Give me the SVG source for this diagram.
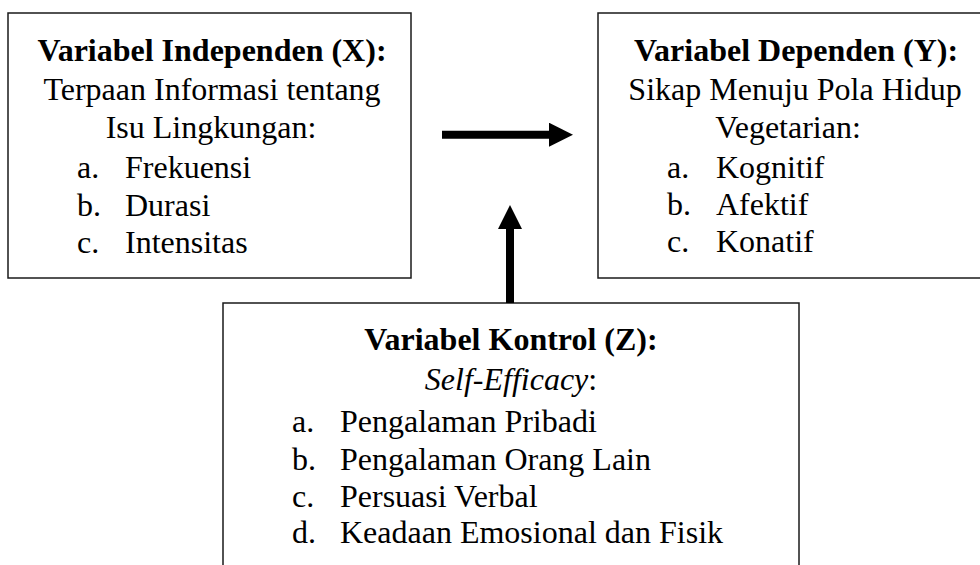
<svg xmlns="http://www.w3.org/2000/svg" width="980" height="565" viewBox="0 0 980 565">
  <style>
    .box { fill: #ffffff; stroke: #1a1a1a; stroke-width: 1.5; }
    .t { font-family: "Liberation Serif", "Times New Roman", serif; font-size: 32px; fill: #000; }
    .b { font-weight: bold; }
    .c { text-anchor: middle; }
    .i { font-style: italic; }
    .conn { stroke: #000; stroke-width: 8; fill: none; }
  </style>
  <defs>
    <marker id="ah" markerUnits="userSpaceOnUse" markerWidth="24" markerHeight="24" refX="0" refY="12" orient="auto">
      <path d="M0,0 L24,12 L0,24 z" fill="#000"/>
    </marker>
  </defs>
  <rect x="0" y="0" width="980" height="565" fill="#ffffff"/>

  <g id="node-independen">
    <rect class="box" x="8" y="13" width="403" height="265"/>
    <text class="t b c" x="212" y="61">Variabel Independen (X):</text>
    <text class="t c" x="212" y="100">Terpaan Informasi tentang</text>
    <text class="t c" x="211" y="138">Isu Lingkungan:</text>
    <text class="t" y="178"><tspan x="77">a.</tspan><tspan x="125">Frekuensi</tspan></text>
    <text class="t" y="216"><tspan x="77">b.</tspan><tspan x="125">Durasi</tspan></text>
    <text class="t" y="253"><tspan x="77">c.</tspan><tspan x="125">Intensitas</tspan></text>
  </g>

  <g id="node-dependen">
    <rect class="box" x="598" y="13" width="400" height="265"/>
    <text class="t b c" x="796" y="61">Variabel Dependen (Y):</text>
    <text class="t c" x="795" y="100">Sikap Menuju Pola Hidup</text>
    <text class="t c" x="788" y="138">Vegetarian:</text>
    <text class="t" y="178"><tspan x="667">a.</tspan><tspan x="716">Kognitif</tspan></text>
    <text class="t" y="215"><tspan x="667">b.</tspan><tspan x="716">Afektif</tspan></text>
    <text class="t" y="252"><tspan x="667">c.</tspan><tspan x="716">Konatif</tspan></text>
  </g>

  <g id="node-kontrol">
    <rect class="box" x="223" y="303" width="576" height="280"/>
    <text class="t b c" x="511" y="350">Variabel Kontrol (Z):</text>
    <text class="t c" x="511" y="390"><tspan class="i">Self-Efficacy</tspan>:</text>
    <text class="t" y="432"><tspan x="292">a.</tspan><tspan x="340">Pengalaman Pribadi</tspan></text>
    <text class="t" y="470"><tspan x="292">b.</tspan><tspan x="340">Pengalaman Orang Lain</tspan></text>
    <text class="t" y="507"><tspan x="292">c.</tspan><tspan x="340">Persuasi Verbal</tspan></text>
    <text class="t" y="543"><tspan x="292">d.</tspan><tspan x="340">Keadaan Emosional dan Fisik</tspan></text>
  </g>

  <g id="connectors">
    <line class="conn" x1="442" y1="134.7" x2="549" y2="134.7" marker-end="url(#ah)"/>
    <line class="conn" x1="510" y1="303" x2="510" y2="229" marker-end="url(#ah)"/>
  </g>
</svg>
